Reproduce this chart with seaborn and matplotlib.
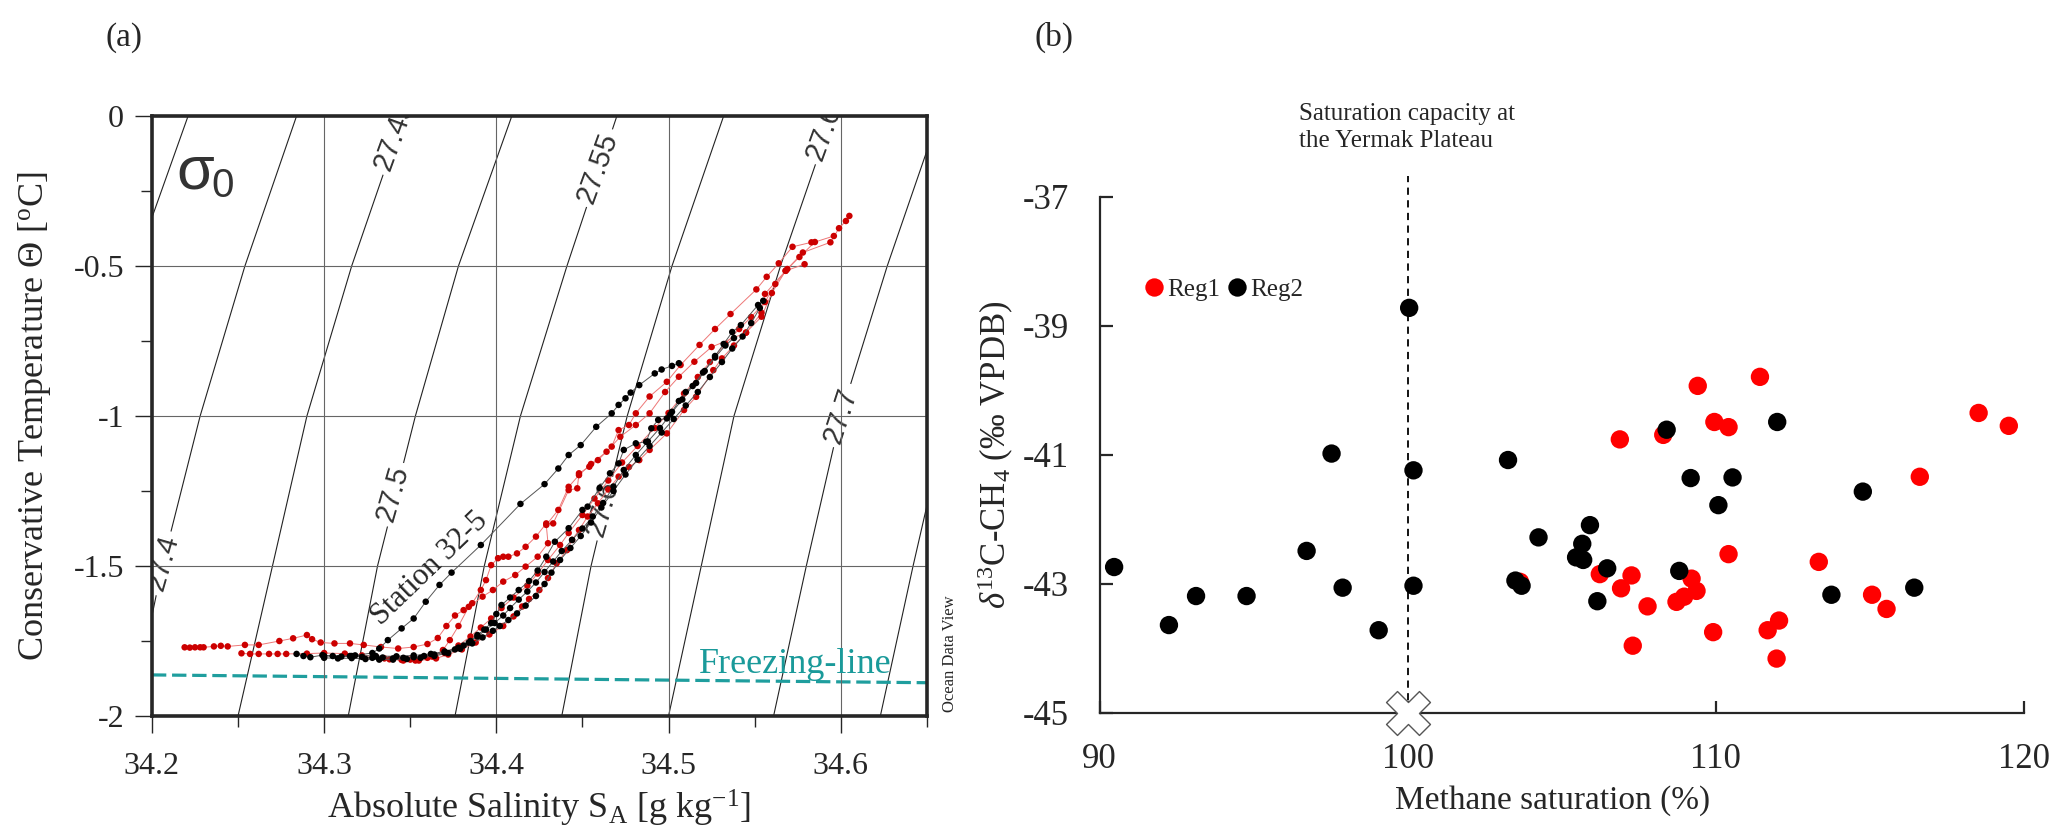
import numpy as np
import pandas as pd
import matplotlib
matplotlib.use("Agg")
import matplotlib.pyplot as plt
import seaborn as sns

# ----------------------------- Panel (a) data -----------------------------
iso_levels = [27.35, 27.40, 27.45, 27.50, 27.55, 27.60, 27.65, 27.70, 27.75]
iso_T = [0.0, -0.5, -1.0, -1.5, -2.0]
iso_S = [
    [34.221, 34.190, 34.165, 34.145, 34.127],
    [34.284, 34.254, 34.228, 34.206, 34.188],
    [34.346, 34.316, 34.290, 34.270, 34.250],
    [34.409, 34.378, 34.353, 34.331, 34.314],
    [34.470, 34.441, 34.414, 34.393, 34.376],
    [34.532, 34.502, 34.476, 34.455, 34.438],
    [34.595, 34.565, 34.538, 34.519, 34.500],
    [34.657, 34.627, 34.600, 34.580, 34.561],
    [34.720, 34.690, 34.662, 34.642, 34.623],
]
iso_label_text = ["27.4", "27.45", "27.5", "27.55", "27.6", "27.65", "27.7"]
iso_label_S = [34.206, 34.341, 34.340, 34.459, 34.462, 34.592, 34.600]
iso_label_T = [-1.49, -0.065, -1.26, -0.172, -1.307, -0.030, -0.997]
iso_label_rot = [74, 70, 74, 70, 74, 70, 72]

freeze_S = [34.20, 34.65]
freeze_T = [-1.863, -1.889]

red_profile_1 = [
    (34.219, -1.771), (34.222, -1.772), (34.225, -1.771), (34.228, -1.771), (34.230, -1.771),
    (34.236, -1.768), (34.240, -1.766), (34.244, -1.768), (34.254, -1.763), (34.262, -1.763),
    (34.274, -1.750), (34.282, -1.741), (34.290, -1.730), (34.293, -1.744), (34.298, -1.755),
    (34.306, -1.758), (34.315, -1.758), (34.323, -1.763), (34.333, -1.770), (34.343, -1.775),
    (34.352, -1.770), (34.360, -1.760), (34.366, -1.740), (34.371, -1.700), (34.376, -1.665),
    (34.381, -1.647), (34.386, -1.624), (34.391, -1.580), (34.394, -1.547), (34.397, -1.497),
    (34.401, -1.474), (34.404, -1.469), (34.407, -1.469), (34.412, -1.458), (34.417, -1.436),
    (34.423, -1.402), (34.429, -1.358), (34.433, -1.358), (34.442, -1.247), (34.447, -1.241),
    (34.448, -1.191), (34.454, -1.169), (34.459, -1.147), (34.467, -1.102), (34.471, -1.047),
    (34.477, -1.030), (34.481, -0.991), (34.489, -0.935), (34.499, -0.886), (34.507, -0.830),
    (34.518, -0.763), (34.527, -0.710), (34.536, -0.660), (34.551, -0.578), (34.557, -0.536),
    (34.564, -0.491), (34.572, -0.436), (34.583, -0.421),
]
red_profile_2 = [
    (34.252, -1.791), (34.257, -1.793), (34.262, -1.793), (34.268, -1.793), (34.273, -1.793),
    (34.278, -1.793), (34.290, -1.792), (34.300, -1.790), (34.312, -1.792), (34.322, -1.798),
    (34.330, -1.802), (34.338, -1.811), (34.346, -1.815), (34.353, -1.815), (34.363, -1.802),
    (34.369, -1.780), (34.373, -1.747), (34.378, -1.700), (34.384, -1.636), (34.392, -1.602),
    (34.398, -1.580), (34.404, -1.552), (34.411, -1.530), (34.417, -1.502), (34.424, -1.469),
    (34.430, -1.424), (34.429, -1.363), (34.436, -1.313), (34.442, -1.236), (34.448, -1.197),
    (34.455, -1.160), (34.464, -1.119), (34.472, -1.069), (34.481, -1.030), (34.489, -0.991),
    (34.498, -0.920), (34.506, -0.869), (34.515, -0.819), (34.525, -0.770), (34.545, -0.722),
    (34.554, -0.656), (34.556, -0.593), (34.568, -0.516), (34.578, -0.455), (34.594, -0.421),
    (34.599, -0.374), (34.603, -0.350), (34.605, -0.333),
]
red_profile_3 = [
    (34.335, -1.808), (34.345, -1.813), (34.355, -1.815), (34.365, -1.808), (34.372, -1.795),
    (34.380, -1.778), (34.388, -1.755), (34.396, -1.728), (34.404, -1.700), (34.410, -1.668),
    (34.415, -1.635), (34.419, -1.610), (34.425, -1.580), (34.430, -1.540), (34.435, -1.491),
    (34.441, -1.447), (34.444, -1.413), (34.448, -1.380), (34.453, -1.335), (34.459, -1.291),
    (34.465, -1.245), (34.471, -1.202), (34.477, -1.170), (34.483, -1.147), (34.489, -1.113),
    (34.499, -1.058), (34.509, -0.980), (34.516, -0.936), (34.526, -0.847), (34.531, -0.808),
    (34.538, -0.765), (34.545, -0.722), (34.554, -0.669), (34.560, -0.590), (34.568, -0.516),
    (34.579, -0.494),
]
red_profile_4 = [
    (34.350, -1.812), (34.360, -1.806), (34.370, -1.790), (34.378, -1.765), (34.385, -1.735),
    (34.391, -1.705), (34.397, -1.675), (34.403, -1.640), (34.410, -1.605), (34.418, -1.565),
    (34.424, -1.525), (34.430, -1.480), (34.437, -1.430), (34.442, -1.390), (34.450, -1.330),
    (34.457, -1.275), (34.465, -1.215), (34.473, -1.155), (34.482, -1.100), (34.492, -1.040),
    (34.500, -0.990), (34.509, -0.925), (34.517, -0.870), (34.524, -0.820), (34.533, -0.760),
    (34.541, -0.710), (34.548, -0.670), (34.556, -0.620), (34.562, -0.560), (34.569, -0.510),
    (34.576, -0.470), (34.585, -0.420), (34.596, -0.400),
]
black_station_32_5 = [
    (34.300, -1.800), (34.315, -1.800), (34.328, -1.790), (34.332, -1.775), (34.337, -1.747),
    (34.345, -1.708), (34.352, -1.675), (34.359, -1.619), (34.367, -1.563), (34.374, -1.522),
    (34.391, -1.430), (34.414, -1.293), (34.428, -1.227), (34.436, -1.175), (34.442, -1.130),
    (34.449, -1.097), (34.458, -1.036), (34.467, -0.991), (34.471, -0.963), (34.475, -0.941),
    (34.478, -0.922), (34.483, -0.897), (34.492, -0.858), (34.496, -0.845), (34.502, -0.833),
    (34.506, -0.824),
]
black_profile_1 = [
    (34.284, -1.793), (34.288, -1.800), (34.292, -1.804), (34.299, -1.797), (34.305, -1.800),
    (34.310, -1.802), (34.316, -1.800), (34.322, -1.803), (34.328, -1.806), (34.334, -1.805),
    (34.340, -1.808), (34.346, -1.806), (34.352, -1.804), (34.358, -1.800), (34.364, -1.795),
    (34.370, -1.788), (34.376, -1.778), (34.381, -1.765), (34.385, -1.750), (34.389, -1.730),
    (34.393, -1.712), (34.397, -1.690), (34.400, -1.660), (34.403, -1.630), (34.408, -1.605),
    (34.413, -1.580), (34.419, -1.550), (34.424, -1.515), (34.429, -1.469), (34.434, -1.419),
    (34.442, -1.374), (34.450, -1.313), (34.453, -1.302), (34.460, -1.240), (34.466, -1.191),
    (34.471, -1.158), (34.474, -1.113), (34.481, -1.091), (34.487, -1.086), (34.490, -1.041),
    (34.494, -1.013), (34.499, -1.008), (34.502, -0.986), (34.506, -0.950), (34.510, -0.920),
    (34.516, -0.890), (34.521, -0.850), (34.527, -0.800), (34.532, -0.760), (34.537, -0.720),
    (34.542, -0.697), (34.552, -0.630), (34.555, -0.616),
]
black_profile_2 = [
    (34.300, -1.806), (34.308, -1.808), (34.316, -1.807), (34.324, -1.810), (34.332, -1.812),
    (34.340, -1.812), (34.348, -1.810), (34.356, -1.806), (34.364, -1.800), (34.372, -1.790),
    (34.379, -1.776), (34.386, -1.758), (34.392, -1.738), (34.398, -1.716), (34.402, -1.700),
    (34.407, -1.680), (34.412, -1.658), (34.417, -1.632), (34.423, -1.600), (34.428, -1.560),
    (34.432, -1.522), (34.437, -1.480), (34.443, -1.440), (34.449, -1.400), (34.455, -1.355),
    (34.461, -1.305), (34.468, -1.250), (34.475, -1.195), (34.482, -1.145), (34.489, -1.100),
    (34.496, -1.055), (34.503, -1.010), (34.510, -0.965), (34.517, -0.920), (34.524, -0.870),
    (34.531, -0.820), (34.537, -0.775), (34.543, -0.735), (34.548, -0.690), (34.553, -0.640),
]
black_profile_3 = [
    (34.318, -1.798), (34.330, -1.800), (34.342, -1.801), (34.352, -1.798), (34.362, -1.793),
    (34.370, -1.785), (34.378, -1.772), (34.384, -1.755), (34.389, -1.735), (34.394, -1.712),
    (34.399, -1.690), (34.404, -1.665), (34.408, -1.640), (34.413, -1.612), (34.418, -1.585),
    (34.423, -1.555), (34.428, -1.520), (34.433, -1.485), (34.438, -1.450), (34.444, -1.413),
    (34.450, -1.375), (34.456, -1.335), (34.462, -1.290), (34.468, -1.235), (34.474, -1.180),
    (34.481, -1.130), (34.488, -1.085), (34.495, -1.040), (34.501, -0.995), (34.508, -0.945),
    (34.514, -0.900), (34.520, -0.855), (34.527, -0.805), (34.533, -0.765), (34.538, -0.740),
]

# ----------------------------- Panel (b) data -----------------------------
reg1_saturation = [109.42, 111.44, 106.89, 108.30, 109.96, 110.42, 118.54, 119.52, 116.63,
                   110.42, 113.35, 106.24, 107.27, 106.93, 107.79, 109.22, 109.38, 108.98,
                   108.73, 109.92, 107.31, 112.06, 111.69, 111.98, 115.08, 115.55, 103.65]
reg1_d13c = [-39.93, -39.79, -40.76, -40.69, -40.49, -40.57, -40.35, -40.55, -41.34,
             -42.54, -42.66, -42.85, -42.87, -43.07, -43.35, -42.92, -43.11, -43.20,
             -43.28, -43.75, -43.96, -43.57, -43.72, -44.16, -43.17, -43.39, -42.97]
reg2_saturation = [90.47, 92.25, 93.13, 94.77, 96.72, 97.53, 97.89, 99.06, 100.05, 100.19,
                   100.19, 103.26, 103.50, 103.70, 104.25, 108.41, 112.00, 109.19, 110.55,
                   110.09, 114.78, 105.92, 105.67, 105.47, 105.70, 106.48, 108.82, 106.16,
                   113.76, 116.45]
reg2_d13c = [-42.74, -43.64, -43.19, -43.19, -42.49, -40.98, -43.06, -43.72, -38.72, -41.24,
             -43.03, -41.08, -42.95, -43.03, -42.28, -40.61, -40.49, -41.36, -41.35,
             -41.78, -41.57, -42.09, -42.38, -42.59, -42.63, -42.76, -42.80, -43.27,
             -43.17, -43.06]
saturation_capacity_x = [100, 100]
saturation_capacity_y = [-45, -36.67]

# ----------------------------- styling -----------------------------
sns.set_theme(style="ticks")
plt.rcParams['font.family'] = ['Liberation Serif', 'DejaVu Serif']
plt.rcParams['mathtext.fontset'] = 'custom'
plt.rcParams['mathtext.rm'] = 'Liberation Serif'
plt.rcParams['mathtext.it'] = 'Liberation Serif:italic'
plt.rcParams['mathtext.bf'] = 'Liberation Serif:bold'
plt.rcParams['axes.unicode_minus'] = False

fig = plt.figure(figsize=(20.67, 8.40), dpi=100)
ax1 = fig.add_axes([0.0735, 0.1476, 0.3749, 0.7143])
ax2 = fig.add_axes([0.532, 0.1515, 0.447, 0.614])

# ----------------------------- Panel (a) -----------------------------
iso_df = pd.DataFrame([(lvl, s, t) for lvl, Ss in zip(iso_levels, iso_S) for s, t in zip(Ss, iso_T)],
                      columns=['sigma', 'S', 'T'])
sns.lineplot(data=iso_df, x='S', y='T', units='sigma', estimator=None, sort=False,
             color='#222222', lw=0.8, ax=ax1, zorder=1)

for txt, s, t, r in zip(iso_label_text, iso_label_S, iso_label_T, iso_label_rot):
    ax1.text(s, t, txt, rotation=r, rotation_mode='anchor', ha='center', va='center',
             fontsize=21, family='Liberation Sans', color='#333333', clip_on=True, zorder=1.2,
             bbox=dict(boxstyle='square,pad=0.15', fc='white', ec='none'))

fr_df = pd.DataFrame({'S': freeze_S, 'T': freeze_T})
sns.lineplot(data=fr_df, x='S', y='T', sort=False, estimator=None, color='#1f9e9e', lw=2.3,
             ax=ax1, linestyle=(0, (4.5, 1.8)), zorder=2)

def profile_df(profiles, tag):
    rows = []
    for i, prof in enumerate(profiles):
        for s, t in prof:
            rows.append((f"{tag}{i}", s, t))
    return pd.DataFrame(rows, columns=['profile', 'S', 'T'])

red_df = profile_df([red_profile_1, red_profile_2, red_profile_3, red_profile_4], 'r')
black_df = profile_df([black_station_32_5, black_profile_1, black_profile_2, black_profile_3], 'b')

sns.lineplot(data=red_df, x='S', y='T', units='profile', estimator=None, sort=False,
             color='#ee7777', lw=0.7, ax=ax1, zorder=3)
sns.scatterplot(data=red_df, x='S', y='T', color='#cc0000', s=22, edgecolor='none', ax=ax1, zorder=4)
sns.lineplot(data=black_df, x='S', y='T', units='profile', estimator=None, sort=False,
             color='#555555', lw=0.7, ax=ax1, zorder=5)
sns.scatterplot(data=black_df, x='S', y='T', color='black', s=22, edgecolor='none', ax=ax1, zorder=6)

ax1.set_xlim(34.2, 34.65)
ax1.set_ylim(-2, 0)
ax1.set_xticks([34.2, 34.3, 34.4, 34.5, 34.6])
ax1.set_xticks([34.25, 34.35, 34.45, 34.55, 34.65], minor=True)
ax1.set_yticks([0, -0.5, -1, -1.5, -2])
ax1.set_yticklabels(['0', '-0.5', '-1', '-1.5', '-2'])
ax1.set_yticks([-0.25, -0.75, -1.25, -1.75], minor=True)
ax1.set_axisbelow(False)
ax1.grid(True, which='major', color='#666666', lw=0.8)
for sp in ax1.spines.values():
    sp.set_linewidth(2.6)
    sp.set_zorder(7)
ax1.tick_params(axis='both', which='major', direction='out', length=12, width=1, labelsize=23)
ax1.tick_params(axis='both', which='minor', direction='out', length=8, width=1)
ax1.tick_params(axis='x', which='major', pad=14)
ax1.tick_params(axis='y', which='major', pad=8)
ax1.set_xlabel(r"Absolute Salinity S$_\mathrm{A}$ [g kg$^{-1}$]", fontsize=26)
ax1.set_ylabel(r"Conservative Temperature Θ [$^\mathrm{o}$C]", fontsize=26)
ax1.xaxis.set_label_coords(0.5, -0.12)
ax1.yaxis.set_label_coords(-0.128, 0.5)

ax1.text(34.2143, -0.24, "σ", fontsize=44, family='Liberation Sans', color='#333333',
         ha='left', va='baseline', zorder=8)
ax1.text(34.2345, -0.269, "0", fontsize=29, family='Liberation Sans', color='#333333',
         ha='left', va='baseline', zorder=8)
ax1.text(34.361, -1.507, "Station 32-5", rotation=44, rotation_mode='anchor', ha='center',
         va='center', fontsize=22, zorder=8)
ax1.text(34.5175, -1.858, "Freezing-line", color='#1a9a9a', fontsize=26, ha='left',
         va='baseline', zorder=8)

fig.text(0.4596, 0.152, "Ocean Data View", rotation=90, fontsize=12, ha='center', va='bottom')
fig.text(0.060, 0.955, "(a)", fontsize=24, ha='center', va='center')
fig.text(0.510, 0.955, "(b)", fontsize=24, ha='center', va='center')

# ----------------------------- Panel (b) -----------------------------
b_df = pd.DataFrame({
    'saturation': reg1_saturation + reg2_saturation,
    'd13c': reg1_d13c + reg2_d13c,
    'region': ['Reg1'] * len(reg1_saturation) + ['Reg2'] * len(reg2_saturation),
})
sat_df = pd.DataFrame({'x': saturation_capacity_x, 'y': saturation_capacity_y})
sns.lineplot(data=sat_df, x='x', y='y', sort=False, estimator=None, color='black', lw=1.3,
             ax=ax2, linestyle=(0, (4, 3)), zorder=1)
ax2.lines[-1].set_clip_on(False)

sns.scatterplot(data=b_df, x='saturation', y='d13c', hue='region',
                palette={'Reg1': '#ff0000', 'Reg2': '#000000'}, s=175, edgecolor='none',
                ax=ax2, zorder=3)
ax2.scatter([100], [-45], marker='X', s=1000, facecolor='white', edgecolor='#555555',
            linewidth=1.0, clip_on=False, zorder=4)

ax2.set_xlim(90, 120)
ax2.set_ylim(-45, -37)
ax2.set_xticks([90, 100, 110, 120])
ax2.set_yticks([-37, -39, -41, -43, -45])
sns.despine(ax=ax2)
for sp in ['left', 'bottom']:
    ax2.spines[sp].set_linewidth(1.6)
ax2.tick_params(axis='both', direction='in', length=9, width=1.6, labelsize=25, pad=22)
ax2.set_xlabel("Methane saturation (%)", fontsize=24)
ax2.set_ylabel(r"$\delta^{13}$C-CH$_4$ (‰ VPDB)", fontsize=25)
ax2.xaxis.set_label_coords(0.49, -0.14)
ax2.yaxis.set_label_coords(-0.09, 0.5)

leg = ax2.legend(loc='center left', bbox_to_anchor=(0.035, 0.82), ncol=2, frameon=False,
                 handletextpad=0.0, columnspacing=0.2, fontsize=18, borderaxespad=0,
                 handlelength=1.0)

ax2.text(96.47, -35.54, "Saturation capacity at\nthe Yermak Plateau", ha='left', va='top',
         fontsize=18, linespacing=1.3, clip_on=False)

fig.savefig("out.png", dpi=100)
